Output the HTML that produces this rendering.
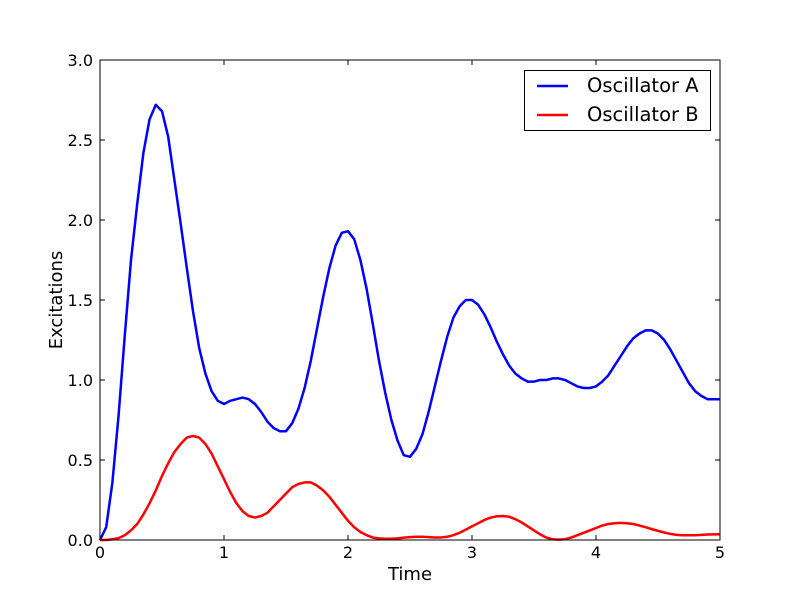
<!DOCTYPE html>
<html><head><meta charset="utf-8"><style>
body{margin:0;background:#fff}
svg{display:block;font-family:"DejaVu Sans","Liberation Sans",sans-serif}
</style></head><body>
<svg id="chart" width="800" height="600" xmlns="http://www.w3.org/2000/svg">
<rect width="800" height="600" fill="#fff"/>
<g id="axes"></g>
<g id="series"></g>
<rect x="100" y="60" width="620" height="480" fill="none" stroke="#000" stroke-width="1"/>
<text x="410" y="580" font-size="18" text-anchor="middle">Time</text>
<text transform="translate(62,300) rotate(-90)" font-size="18" text-anchor="middle">Excitations</text>
<g>
<rect x="524.5" y="70.5" width="186" height="60" fill="#fff" stroke="#000"/>
<g><line x1="537" y1="86" x2="568" y2="86" stroke="#0000ff" stroke-width="2.5"/><text x="587" y="92" font-size="19.5">Oscillator A</text></g>
<g><line x1="537" y1="115" x2="568" y2="115" stroke="#ff0000" stroke-width="2.5"/><text x="587" y="121" font-size="19.5">Oscillator B</text></g>
</g>
</svg>
<script>
const xTicks=[0,1,2,3,4,5];
const yTicks=[0,0.5,1,1.5,2,2.5,3];
const yTickLabels=["0.0","0.5","1.0","1.5","2.0","2.5","3.0"];
const timeStep=0.05;
const oscA=[0,0.08,0.36,0.78,1.28,1.75,2.1,2.42,2.63,2.72,2.68,2.52,2.25,1.98,1.7,1.43,1.2,1.04,0.93,0.87,0.85,0.87,0.88,0.89,0.88,0.85,0.8,0.74,0.7,0.68,0.68,0.73,0.82,0.95,1.12,1.32,1.52,1.7,1.84,1.92,1.93,1.88,1.75,1.57,1.35,1.12,0.92,0.75,0.62,0.53,0.52,0.57,0.66,0.8,0.96,1.12,1.27,1.39,1.46,1.5,1.5,1.47,1.41,1.33,1.24,1.16,1.09,1.04,1.01,0.99,0.99,1.0,1.0,1.01,1.01,1.0,0.98,0.96,0.95,0.95,0.96,0.99,1.03,1.09,1.15,1.21,1.26,1.29,1.31,1.31,1.29,1.25,1.19,1.12,1.05,0.98,0.93,0.9,0.88,0.88,0.88];
const oscB=[0,0,0.005,0.012,0.03,0.06,0.1,0.16,0.23,0.31,0.4,0.48,0.55,0.6,0.64,0.65,0.64,0.6,0.54,0.46,0.38,0.3,0.23,0.18,0.15,0.14,0.15,0.17,0.21,0.25,0.29,0.33,0.35,0.36,0.36,0.34,0.31,0.27,0.22,0.17,0.12,0.08,0.05,0.03,0.015,0.01,0.008,0.008,0.01,0.015,0.018,0.02,0.02,0.018,0.016,0.016,0.02,0.03,0.045,0.065,0.085,0.105,0.125,0.14,0.148,0.15,0.145,0.13,0.11,0.085,0.06,0.035,0.015,0.005,0.002,0.005,0.015,0.03,0.045,0.06,0.075,0.09,0.1,0.105,0.107,0.105,0.1,0.09,0.08,0.068,0.057,0.047,0.038,0.032,0.03,0.03,0.03,0.032,0.034,0.035,0.036];
const NS="http://www.w3.org/2000/svg";
function xs(v){return 100+v/5*620;}
function ys(v){return 540-v/3*480;}
const axes=document.getElementById('axes');
function mk(tag,attrs,parent){const e=document.createElementNS(NS,tag);for(const k in attrs)e.setAttribute(k,attrs[k]);parent.appendChild(e);return e;}
xTicks.forEach(t=>{
  const x=xs(t);
  const l1=mk('line',{x1:x,y1:540,x2:x,y2:535,stroke:'#000'},axes);
  
  
  const l2=mk('line',{x1:x,y1:60,x2:x,y2:65,stroke:'#000'},axes);
  
  
  const tx=mk('text',{x:x,y:558,'font-size':16,'text-anchor':'middle'},axes);
  tx.textContent=String(t);
  
  
});
yTicks.forEach((t,i)=>{
  const y=ys(t);
  const l1=mk('line',{x1:100,y1:y,x2:105,y2:y,stroke:'#000'},axes);
  
  
  const l2=mk('line',{x1:720,y1:y,x2:715,y2:y,stroke:'#000'},axes);
  
  
  const tx=mk('text',{x:93,y:y+6,'font-size':16,'text-anchor':'end'},axes);
  tx.textContent=yTickLabels[i];
  
  
});
const series=document.getElementById('series');
function draw(arr,color,name){
  const pts=arr.map((v,i)=>xs(i*timeStep).toFixed(2)+','+ys(v).toFixed(2)).join(' ');
  const p=mk('polyline',{points:pts,fill:'none',stroke:color,'stroke-width':2.5,'stroke-linejoin':'round'},series);
  
  
}
draw(oscA,'#0000ff','line-oscillator-a');
draw(oscB,'#ff0000','line-oscillator-b');
</script>
</body></html>
